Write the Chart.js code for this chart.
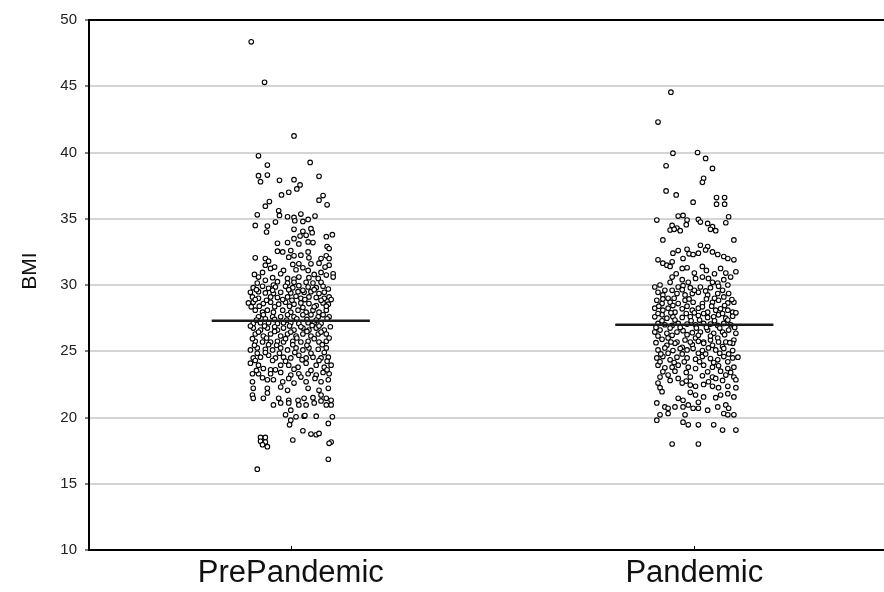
<!DOCTYPE html>
<html lang="en">
<head>
<meta charset="UTF-8">
<title>BMI - PrePandemic vs Pandemic</title>
<style>
  body { margin: 0; background: #fff; }
  #wrap { width: 884px; height: 592px; }
</style>
</head>
<body>
<div id="wrap"><canvas id="bmiChart" width="884" height="592"></canvas></div>

<script src="https://cdn.jsdelivr.net/npm/chart.js"></script>
<script>
const categories = ['PrePandemic', 'Pandemic'];
const means = [27.3, 27.0];

// each point: [horizontal jitter from the group centre, BMI]
const prePandemic = [
  [-0.098,48.35],[-0.065,45.3],[0.008,41.25],[-0.080,39.75],[-0.058,39.05],[0.048,39.25],[-0.080,38.25],[-0.058,38.3],
  [-0.075,37.8],[0.070,38.2],[-0.028,37.9],[0.008,37.95],[0.023,37.55],[0.015,37.25],[-0.005,37.0],[-0.023,36.8],
  [0.080,36.75],[0.070,36.4],[0.090,36.05],[-0.053,36.3],[-0.063,35.95],[-0.030,35.6],[-0.083,35.3],[0.060,35.2],
  [-0.028,35.25],[-0.008,35.15],[0.008,35.1],[0.025,35.35],[0.043,34.95],[-0.038,34.75],[0.010,34.85],[0.030,34.8],
  [-0.088,34.5],[-0.058,34.45],[-0.060,34.0],[0.050,34.25],[0.053,33.95],[0.008,34.2],[0.030,34.05],[0.023,33.7],
  [0.038,33.75],[0.088,33.65],[0.103,33.8],[0.008,33.5],[-0.033,33.15],[-0.008,33.2],[0.020,33.1],[0.043,33.25],
  [0.055,33.2],[0.090,32.9],[0.095,32.75],[-0.033,32.55],[-0.020,32.5],[0.000,32.6],[0.043,32.5],[-0.088,32.05],
  [-0.063,32.0],[-0.055,31.8],[-0.063,31.5],[-0.005,32.1],[0.008,32.2],[0.025,32.25],[0.045,32.05],[0.075,32.0],
  [0.088,32.2],[0.095,32.0],[0.005,31.55],[0.020,31.6],[0.050,31.6],[0.070,31.65],[0.095,31.5],[-0.050,31.25],
  [-0.070,30.95],[-0.018,31.1],[0.013,31.15],[0.043,31.1],[0.075,30.95],[0.105,30.85],[-0.080,30.6],[-0.045,30.55],
  [-0.063,30.35],[-0.033,30.25],[-0.008,30.5],[0.008,30.45],[0.020,30.6],[0.045,30.55],[0.068,30.5],[0.105,30.6],
  [-0.083,30.15],[-0.043,30.0],[-0.008,30.15],[0.008,30.2],[0.038,30.2],[0.055,30.15],[0.075,30.2],
  [-0.093,29.8],[-0.070,29.9],[-0.055,29.75],[-0.038,29.85],[-0.013,29.9],[0.005,29.8],[0.020,29.95],[0.043,29.85],
  [0.063,29.8],[0.080,29.9],[-0.100,29.45],[-0.080,29.5],[-0.063,29.4],[-0.043,29.35],[-0.025,29.45],[0.000,29.4],
  [0.018,29.5],[0.033,29.45],[0.050,29.5],[0.070,29.35],[0.083,29.45],[-0.095,29.1],[-0.080,29.0],[-0.050,29.1],
  [-0.033,29.05],[-0.008,29.1],[0.013,29.15],[0.025,29.0],[0.045,29.1],[0.063,29.05],[0.083,29.0],[0.095,29.1],
  [-0.105,28.65],[-0.093,28.7],[-0.068,28.6],[-0.050,28.7],[-0.030,28.55],[-0.013,28.7],[0.008,28.55],[0.025,28.65],
  [0.045,28.6],[0.063,28.45],[0.080,28.65],[0.093,28.55],[-0.088,28.1],[-0.070,27.95],[-0.058,28.1],[-0.043,27.95],
  [-0.020,28.1],[0.000,27.95],[0.018,28.1],[0.038,27.95],[0.055,28.1],[0.070,27.95],[0.088,28.1],[-0.080,27.6],
  [-0.068,27.75],[-0.045,27.6],[-0.025,27.6],[-0.008,27.75],[0.008,27.6],[0.030,27.75],[0.050,27.75],[0.068,27.6],
  [0.080,27.75],[0.095,27.6],[-0.093,27.1],[-0.075,27.15],[-0.055,27.15],[-0.033,27.1],[-0.018,27.15],[0.000,27.15],
  [0.020,27.1],[0.043,27.15],[0.058,27.15],[0.075,27.1],[-0.093,26.75],[-0.075,26.6],[-0.058,26.75],[-0.033,26.6],
  [-0.018,26.75],[0.008,26.6],[0.030,26.75],[0.045,26.6],[0.063,26.75],[0.083,26.6],[-0.088,26.3],[-0.068,26.15],
  [-0.050,26.3],[-0.025,26.15],[-0.008,26.3],[0.013,26.15],[0.030,26.3],[0.050,26.15],[0.068,26.3],[0.088,26.3],
  [-0.088,25.75],[-0.070,25.7],[-0.050,25.7],[-0.033,25.75],[-0.018,25.7],[0.005,25.75],[0.025,25.7],[0.043,25.75],
  [0.070,25.7],[0.088,25.75],[-0.100,25.1],[-0.083,25.25],[-0.063,25.15],[-0.045,25.1],[-0.025,25.25],[-0.008,25.1],
  [0.013,25.25],[0.030,25.1],[0.045,25.25],[0.068,25.15],[0.088,25.25],[-0.093,24.5],[-0.075,24.55],[-0.055,24.7],
  [-0.038,24.5],[-0.018,24.55],[0.000,24.5],[0.020,24.7],[0.038,24.5],[0.055,24.55],[0.075,24.5],[0.093,24.55],
  [-0.100,24.1],[-0.080,23.95],[-0.068,23.7],[-0.050,23.6],[-0.025,23.95],[-0.005,23.95],[0.018,23.8],[0.038,24.1],
  [0.063,23.95],[0.083,23.8],[0.100,23.95],[-0.095,23.3],[-0.080,23.3],[-0.050,23.3],[-0.025,23.4],[0.000,23.2],
  [0.020,23.3],[0.043,23.3],[0.063,23.2],[0.080,23.4],[0.095,23.3],[-0.095,22.7],[-0.058,22.85],[-0.043,22.85],
  [-0.020,22.7],[0.008,22.6],[0.038,22.7],[0.075,22.7],[0.093,22.85],[-0.093,22.2],[-0.058,22.2],[-0.025,22.3],
  [-0.008,22.05],[0.043,22.2],[0.070,22.05],[0.093,22.2],[-0.095,21.7],[-0.093,21.45],[-0.068,21.45],[-0.058,21.85],
  [-0.030,21.45],[-0.005,21.3],[0.018,21.3],[0.033,21.45],[0.055,21.5],[0.075,21.7],[0.088,21.45],[0.100,21.3],
  [-0.043,20.95],[-0.025,21.1],[-0.005,21.1],[0.000,20.55],[0.020,20.95],[0.038,20.95],[0.058,21.1],[0.075,21.25],
  [0.088,20.95],[0.100,20.95],[-0.013,20.2],[0.000,19.8],[0.013,20.05],[0.033,20.1],[0.035,20.15],[0.063,20.1],
  [0.103,20.05],[0.093,19.55],[-0.003,19.45],[0.030,19.0],[0.050,18.75],[0.063,18.7],[0.070,18.8],[0.005,18.3],
  [0.100,18.15],[0.095,18.05],[-0.075,18.5],[-0.063,18.5],[-0.075,18.2],[-0.063,18.15],[-0.070,17.95],[-0.058,17.8],
  [0.093,16.85],[-0.083,16.1],
  [-0.040,31.35],[0.030,31.3],[0.085,31.35],[-0.090,30.8],[-0.025,30.85],[0.058,30.8],[0.088,30.75],
  [-0.085,29.65],[-0.045,29.6],[-0.005,29.65],[0.030,29.6],[0.058,29.65],[0.093,29.7],
  [-0.088,28.9],[-0.060,28.85],[-0.020,28.9],[0.003,28.85],[0.035,28.9],[0.075,28.85],[0.100,28.9],
  [-0.098,28.35],[-0.078,28.4],[-0.040,28.35],[-0.003,28.4],[0.030,28.3],[0.058,28.35],[0.088,28.4],
  [-0.085,27.35],[-0.063,27.45],[-0.040,27.4],[-0.010,27.35],[0.015,27.45],[0.040,27.4],[0.063,27.35],[0.090,27.45],
  [-0.100,26.9],[-0.065,26.9],[-0.040,26.85],[-0.003,26.9],[0.025,26.85],[0.053,26.95],[0.070,26.9],[0.098,26.85],
  [-0.080,26.45],[-0.040,26.5],[0.000,26.45],[0.040,26.5],[0.075,26.45],
  [-0.095,25.95],[-0.060,26.0],[-0.013,25.95],[0.015,26.0],[0.058,25.95],[0.095,26.0],
  [-0.090,25.45],[-0.055,25.5],[-0.035,25.45],[0.005,25.5],[0.040,25.45],[0.078,25.5],
  [-0.083,24.85],[-0.063,24.9],[-0.028,24.85],[0.010,24.9],[0.050,24.85],[0.083,24.9],
  [-0.088,24.3],[-0.045,24.3],[-0.013,24.25],[0.028,24.35],[0.070,24.3],[0.090,24.25],
  [-0.085,23.55],[-0.038,23.6],[0.008,23.65],[0.050,23.55],[0.090,23.6],
  [-0.070,23.0],[-0.005,22.95],[0.025,23.05],[0.060,22.95]
];

const pandemic = [
  [-0.058,44.55],[-0.090,42.3],[-0.053,39.95],[0.008,40.0],[0.028,39.55],[-0.070,39.0],[0.045,38.8],[0.023,38.05],
  [0.020,37.75],[-0.070,37.1],[-0.045,36.8],[-0.003,36.25],[0.055,36.6],[0.075,36.6],[0.055,36.1],[0.075,36.1],
  [-0.093,34.9],[-0.040,35.2],[-0.028,35.25],[-0.018,34.9],[-0.020,34.55],[-0.055,34.5],[-0.043,34.3],[0.010,34.95],
  [0.015,34.75],[0.033,34.65],[0.045,34.4],[0.078,34.7],[0.085,35.15],[-0.060,34.15],[-0.050,34.2],[-0.035,34.1],
  [0.040,34.2],[0.053,34.1],[-0.078,33.4],[0.098,33.4],[0.015,33.0],[0.033,32.9],[0.028,32.65],[-0.040,32.6],
  [-0.018,32.7],[-0.053,32.4],[-0.013,32.35],[-0.003,32.3],[0.010,32.4],[0.045,32.5],[0.058,32.3],[0.073,32.15],
  [0.083,32.0],[0.098,31.9],[-0.090,31.9],[-0.078,31.65],[-0.068,31.5],[-0.060,31.4],[-0.055,31.75],[-0.028,32.0],
  [-0.030,31.25],[-0.018,31.3],[0.020,31.4],[0.030,31.1],[0.065,31.25],[0.078,30.9],[0.090,30.6],[0.103,31.0],
  [-0.055,30.6],[-0.060,30.2],[-0.030,30.4],[-0.015,30.2],[0.003,30.5],[0.020,30.6],[0.035,30.5],[0.045,30.2],
  [0.058,30.15],[0.073,30.4],[-0.098,29.85],[-0.085,30.0],[-0.073,29.6],[-0.040,29.85],[-0.028,29.95],[-0.010,29.8],
  [0.015,29.85],[0.040,29.8],[0.060,29.9],[0.083,30.0],[-0.090,29.45],[-0.078,29.25],[-0.065,29.0],[-0.043,29.35],
  [-0.023,29.25],[-0.005,29.35],[0.010,29.45],[0.033,29.25],[0.058,29.35],[0.073,29.1],[0.085,29.35],[-0.093,28.85],
  [-0.080,28.6],[-0.060,28.7],[-0.040,28.6],[-0.023,28.85],[-0.003,28.7],[0.020,28.6],[0.045,28.7],[0.060,28.85],
  [0.083,28.65],[0.098,28.7],[-0.098,28.25],[-0.078,28.1],[-0.065,28.25],[-0.048,27.95],[-0.030,28.2],[-0.005,28.1],
  [0.010,28.25],[0.033,27.95],[0.053,28.1],[0.065,28.2],[0.083,28.1],[0.095,27.95],[-0.098,27.6],[-0.080,27.75],
  [-0.068,27.5],[-0.053,27.6],[-0.030,27.55],[-0.010,27.6],[0.010,27.7],[0.033,27.55],[0.048,27.6],[0.060,27.75],
  [0.078,27.5],[0.095,27.65],[-0.090,27.1],[-0.073,27.0],[-0.055,26.95],[-0.040,27.1],[-0.018,27.05],[0.003,27.0],
  [0.023,27.1],[0.040,27.05],[0.058,26.95],[0.073,27.1],[0.090,27.0],[-0.098,26.45],[-0.085,26.6],[-0.068,26.35],
  [-0.043,26.45],[-0.028,26.55],[-0.005,26.4],[0.015,26.45],[0.033,26.6],[0.048,26.35],[0.070,26.45],[0.085,26.6],
  [0.103,26.35],[-0.080,25.9],[-0.065,26.0],[-0.043,25.7],[-0.023,25.85],[0.003,26.0],[0.023,25.7],[0.040,25.85],
  [0.058,26.0],[0.078,25.7],[0.098,25.85],[-0.068,25.45],[-0.048,25.6],[-0.030,25.3],[-0.005,25.5],[0.023,25.6],
  [0.045,25.45],[0.070,25.35],[0.095,25.6],[-0.090,25.1],[-0.073,25.25],[-0.053,25.05],[-0.035,25.2],[-0.018,25.1],
  [-0.003,25.2],[0.020,25.05],[0.035,25.25],[0.053,25.1],[0.073,25.2],[0.095,25.05],[-0.093,24.5],[-0.078,24.6],
  [-0.060,24.35],[-0.043,24.55],[-0.018,24.5],[0.003,24.4],[0.020,24.6],[0.040,24.45],[0.058,24.35],[0.073,24.6],
  [0.095,24.5],[0.108,24.55],[-0.090,23.95],[-0.073,23.75],[-0.055,23.8],[-0.040,23.95],[-0.015,23.8],[0.003,23.7],
  [0.023,23.95],[0.045,23.8],[0.060,23.9],[0.083,23.7],[0.098,23.8],[-0.085,23.05],[-0.065,23.2],[-0.040,22.95],
  [-0.010,23.05],[0.020,23.15],[0.045,23.05],[0.053,22.95],[0.078,23.2],[0.098,23.05],[0.103,22.85],[-0.090,22.6],
  [-0.085,22.25],[-0.080,21.95],[-0.030,22.6],[-0.010,22.45],[0.003,22.35],[0.023,22.5],[0.045,22.35],[0.060,22.25],
  [0.083,22.35],[0.103,22.25],[-0.010,21.9],[0.003,21.7],[0.023,21.55],[0.053,21.5],[0.065,21.7],[0.083,21.8],
  [0.098,21.55],[-0.040,21.45],[-0.028,21.3],[0.010,21.15],[-0.093,21.1],[-0.073,20.8],[-0.065,20.7],[-0.048,20.8],
  [-0.028,20.8],[-0.015,20.95],[-0.003,20.7],[0.010,20.7],[0.033,20.55],[0.058,20.8],[0.078,20.95],[0.085,20.7],
  [-0.085,20.2],[-0.093,19.8],[-0.065,20.3],[-0.023,20.2],[0.073,20.3],[0.083,20.2],[0.098,20.2],[-0.028,19.65],
  [-0.015,19.45],[0.010,19.45],[0.048,19.45],[0.070,19.05],[0.103,19.05],[-0.055,18.0],[0.010,18.0],
  [-0.045,30.85],[0.000,30.9],[0.050,30.85],
  [-0.055,29.6],[-0.030,29.65],[0.000,29.6],[0.028,29.55],[0.070,29.6],
  [-0.078,28.95],[-0.050,29.0],[-0.013,28.95],[0.030,28.95],[0.050,29.0],[0.093,28.9],
  [-0.088,28.4],[-0.053,28.45],[-0.018,28.4],[0.020,28.35],[0.043,28.4],[0.075,28.45],
  [-0.090,27.85],[-0.058,27.9],[-0.020,27.85],[0.000,27.9],[0.023,27.85],[0.070,27.85],[0.103,27.9],
  [-0.080,27.3],[-0.048,27.35],[-0.008,27.3],[0.013,27.35],[0.050,27.3],[0.083,27.35],
  [-0.095,26.8],[-0.060,26.75],[-0.035,26.8],[0.005,26.75],[0.030,26.8],[0.063,26.75],[0.100,26.8],
  [-0.090,26.15],[-0.055,26.2],[-0.018,26.25],[0.010,26.2],[0.040,26.15],[0.075,26.25],
  [-0.095,25.65],[-0.058,25.7],[-0.010,25.7],[0.010,25.75],[0.060,25.7],[0.088,25.65],
  [-0.083,24.8],[-0.065,24.85],[-0.030,24.8],[0.010,24.85],[0.028,24.8],[0.063,24.85],[0.085,24.8],
  [-0.085,24.2],[-0.050,24.15],[-0.025,24.2],[0.013,24.2],[0.048,24.15],[0.083,24.2],
  [-0.078,23.45],[-0.048,23.5],[-0.020,23.4],[0.033,23.45],[0.065,23.5],[0.090,23.4],
  [-0.060,22.8],[-0.020,22.75],[0.035,22.7],[0.070,22.8]
];

const groups = [prePandemic, pandemic];
const centers = [0.5, 1.5];
const meanHalfWidth = 0.196;
const fontFamily = '"Liberation Sans", Arial, sans-serif';

Chart.defaults.font.family = fontFamily;

const pointSets = groups.map((pts, i) => ({
  type: 'scatter',
  label: categories[i],
  data: pts.map(p => ({ x: centers[i] + p[0], y: p[1] })),
  pointRadius: 2.3,
  pointBorderWidth: 1.1,
  borderColor: '#000',
  backgroundColor: '#fff',
  order: 2
}));

const meanLines = means.map((m, i) => ({
  type: 'line',
  label: categories[i] + ' mean',
  data: [{ x: centers[i] - meanHalfWidth, y: m }, { x: centers[i] + meanHalfWidth, y: m }],
  borderColor: '#1a1a1a',
  borderWidth: 2.5,
  pointRadius: 0,
  order: 1
}));

// top frame line, inner x tick marks and the rotated axis title
const frame = {
  id: 'frame',
  afterDraw(chart) {
    const { ctx, chartArea: { left, right, top, bottom }, scales: { x } } = chart;
    ctx.save();
    ctx.strokeStyle = '#000';
    ctx.lineWidth = 2;
    ctx.beginPath();
    ctx.moveTo(left - 1, top);
    ctx.lineTo(right, top);
    ctx.stroke();

    ctx.lineWidth = 1;
    centers.forEach(c => {
      const px = Math.round(x.getPixelForValue(c)) + 0.5;
      ctx.beginPath();
      ctx.moveTo(px, bottom);
      ctx.lineTo(px, bottom - 4);
      ctx.stroke();
    });

    ctx.translate(30, (top + bottom) / 2 - 14);
    ctx.rotate(-Math.PI / 2);
    ctx.font = '21px ' + fontFamily;
    ctx.fillStyle = '#111';
    ctx.textAlign = 'center';
    ctx.textBaseline = 'middle';
    ctx.fillText('BMI', 0, 0);
    ctx.restore();
  }
};

new Chart(document.getElementById('bmiChart').getContext('2d'), {
  type: 'scatter',
  data: { datasets: [...meanLines, ...pointSets] },
  options: {
    responsive: false,
    animation: false,
    layout: { autoPadding: false, padding: { top: 20, right: 0, bottom: 0, left: 0 } },
    plugins: {
      legend: { display: false },
      tooltip: { enabled: false }
    },
    scales: {
      x: {
        type: 'linear',
        min: 0,
        max: 1.97,
        afterBuildTicks: s => { s.ticks = centers.map(v => ({ value: v })); },
        afterFit: s => { s.height = 42; },
        grid: { display: false, drawTicks: false },
        border: { display: true, color: '#000', width: 2 },
        ticks: {
          padding: 5,
          maxRotation: 0,
          autoSkip: false,
          color: '#111',
          font: { size: 31 },
          callback: (v, i) => categories[i]
        }
      },
      y: {
        min: 10,
        max: 50,
        afterFit: s => { s.width = 89; },
        grid: { color: '#d4d4d4', lineWidth: 2, tickLength: 4, tickColor: '#000', tickWidth: 1 },
        border: { color: '#000', width: 2 },
        ticks: { stepSize: 5, padding: 8, color: '#222', font: { size: 15 } }
      }
    }
  },
  plugins: [frame]
});
</script>
</body>
</html>
